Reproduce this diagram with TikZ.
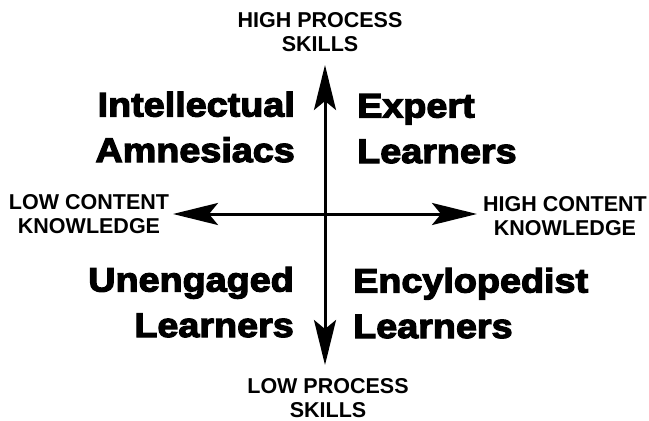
\documentclass[tikz,border=0pt]{standalone}
\usepackage{fontspec}
\setmainfont{Liberation Sans}
\newfontfamily\heavyfont{Liberation Sans}[BoldFeatures={FakeBold=3.6,FakeStretch=1.11}]
\usetikzlibrary{arrows.meta}
\begin{document}
\begin{tikzpicture}[x=1pt,y=-1pt,
  axis/.style={line width=3pt,-{Stealth[length=45pt,width=22pt,inset=9pt]}},
  pole/.style={font=\bfseries\fontsize{21.5}{23.5}\selectfont,align=center,inner sep=0pt,anchor=base},
  quad/.style={font=\heavyfont\bfseries\fontsize{34}{45.5}\selectfont,inner sep=0pt}]
  \useasboundingbox (0,0) rectangle (649,421);
  % axis ends
  \coordinate (o) at (325,214);
  \coordinate (up) at (325,65);
  \coordinate (down) at (325,365);
  \coordinate (left) at (173,214);
  \coordinate (right) at (477,214);
  % pole labels (last baseline)
  \draw (320,51) node[pole] (hps) {HIGH PROCESS\\SKILLS};
  \draw (328,417) node[pole] (lps) {LOW PROCESS\\SKILLS};
  \draw (89,233) node[pole] (lck) {LOW CONTENT\\KNOWLEDGE};
  \draw (565,235) node[pole] (hck) {HIGH CONTENT\\KNOWLEDGE};
  % quadrant labels
  \draw (295,162) node[quad,align=right,anchor=base east] (ia) {Intellectual\\Amnesiacs};
  \draw (357,163) node[quad,align=left,anchor=base west] (el) {Expert\\Learners};
  \draw (294,337) node[quad,align=right,anchor=base east] (ul) {Unengaged\\Learners};
  \draw (353,338) node[quad,align=left,anchor=base west] (enl) {Encylopedist\\Learners};
  % axes
  \draw[axis] (o) -- (up);
  \draw[axis] (o) -- (down);
  \draw[axis] (o) -- (left);
  \draw[axis] (o) -- (right);
\end{tikzpicture}
\end{document}
